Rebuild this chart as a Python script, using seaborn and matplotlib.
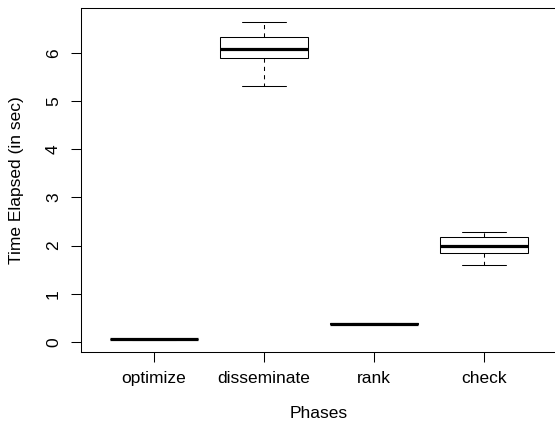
import pandas as pd
import matplotlib
matplotlib.use("Agg")
import matplotlib.pyplot as plt
import seaborn as sns

# Five-number summaries (min, q1, median, q3, max) per phase
phases = ["optimize", "disseminate", "rank", "check"]
optimize_times = [0.045, 0.048, 0.05, 0.052, 0.055]
disseminate_times = [5.32, 5.89, 6.09, 6.34, 6.65]
rank_times = [0.365, 0.37, 0.375, 0.38, 0.385]
check_times = [1.59, 1.84, 2.00, 2.18, 2.28]
y_ticks = [0, 1, 2, 3, 4, 5, 6]

# Long-form table for seaborn
rows = []
for name, vals in zip(phases, [optimize_times, disseminate_times, rank_times, check_times]):
    for v in vals:
        rows.append({"Phases": name, "time": v})
df = pd.DataFrame(rows)

sns.set_style("white")
plt.rcParams["font.family"] = ["Liberation Sans", "DejaVu Sans"]

fig = plt.figure(figsize=(5.55, 4.24), dpi=100)
ax = fig.add_axes([81.3 / 555, (424 - 352.3) / 424, 475.2 / 555, 344.3 / 424])

lw = 0.75
sns.boxplot(data=df, x="Phases", y="time", order=phases, ax=ax,
            color="white", linecolor="black", linewidth=lw, width=0.8,
            showfliers=False, whis=1.5,
            medianprops=dict(linewidth=2.3, color="black"),
            whiskerprops=dict(linestyle=(0, (4, 4)), linewidth=lw, color="black"),
            capprops=dict(linewidth=lw, color="black"),
            boxprops=dict(linewidth=lw, edgecolor="black", facecolor="white"))

ax.set_xlim(-0.66, 3.66)
ax.set_ylim(-0.22, 6.94)
ax.set_yticks(y_ticks)
ax.set_yticklabels([str(t) for t in y_ticks], rotation=90, va="center")

for sp in ax.spines.values():
    sp.set_visible(True)
    sp.set_color("black")
    sp.set_linewidth(lw)

ax.tick_params(axis="both", which="major", direction="out", length=7.2,
               width=lw, color="black", labelsize=12.5, labelcolor="black",
               left=True, bottom=True)
ax.tick_params(axis="x", pad=6.5)
ax.tick_params(axis="y", pad=7.5)

ax.set_xlabel("Phases", fontsize=12.5, color="black")
ax.set_ylabel("Time Elapsed (in sec)", fontsize=12.5, color="black")
ax.xaxis.set_label_coords(0.5, (352.3 - 413) / 344.3)
ax.xaxis.label.set_va("center")
ax.yaxis.set_label_coords((17 - 81.3) / 475.2, 0.5)
ax.yaxis.label.set_va("center")

fig.savefig("out.png", dpi=100)
